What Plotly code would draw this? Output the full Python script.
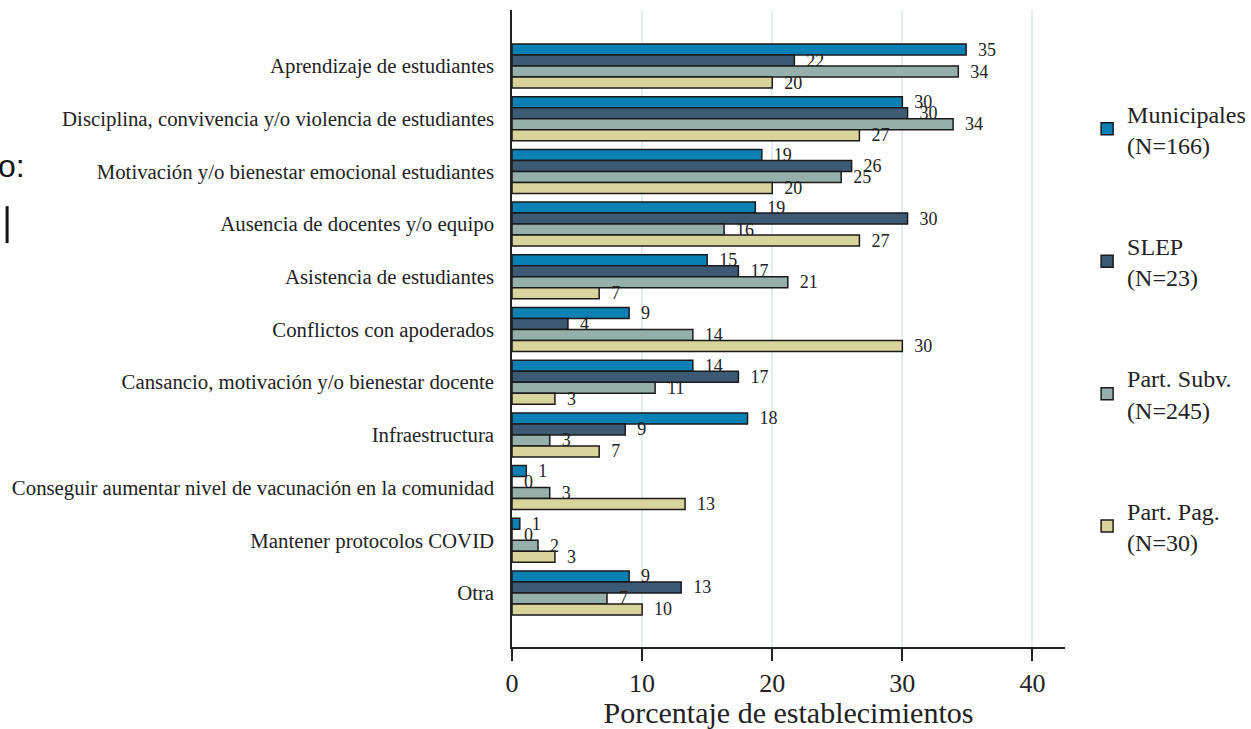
import plotly.graph_objects as go

categories = [
    "Aprendizaje de estudiantes",
    "Disciplina, convivencia y/o violencia de estudiantes",
    "Motivación y/o bienestar emocional estudiantes",
    "Ausencia de docentes y/o equipo",
    "Asistencia de estudiantes",
    "Conflictos con apoderados",
    "Cansancio, motivación y/o bienestar docente",
    "Infraestructura",
    "Conseguir aumentar nivel de vacunación en la comunidad",
    "Mantener protocolos COVID",
    "Otra",
]

municipales = [34.9, 30.0, 19.2, 18.7, 15.0, 9.0, 13.9, 18.1, 1.1, 0.6, 9.0]
slep = [21.7, 30.4, 26.1, 30.4, 17.4, 4.3, 17.4, 8.7, 0.0, 0.0, 13.0]
part_subv = [34.3, 33.9, 25.3, 16.3, 21.2, 13.9, 11.0, 2.9, 2.9, 2.0, 7.3]
part_pag = [20.0, 26.7, 20.0, 26.7, 6.7, 30.0, 3.3, 6.7, 13.3, 3.3, 10.0]

series_names = ["Municipales<br>(N=166)", "SLEP<br>(N=23)", "Part. Subv.<br>(N=245)", "Part. Pag.<br>(N=30)"]
series_values = [municipales, slep, part_subv, part_pag]
colors = ["#0a80b4", "#3d5a75", "#95b0aa", "#d9d39c"]

SERIF = "Liberation Serif, Times New Roman, serif"

fig = go.Figure()
for i, (name, vals, col) in enumerate(zip(series_names, series_values, colors)):
    fig.add_trace(go.Bar(
        y=categories, x=vals, orientation="h", name=name,
        legendgroup=f"g{i}",
        marker=dict(color=col, line=dict(color="#1a1a1a", width=1.5)),
        texttemplate="\u2002%{x:.0f}", textposition="outside",
        constraintext="none", cliponaxis=False,
        textfont=dict(family=SERIF, size=18, color="#222222"),
        hoverinfo="x+y",
    ))

fig.update_layout(
    width=1251, height=729,
    margin=dict(l=512, r=186, t=10, b=82, autoexpand=False),
    paper_bgcolor="white", plot_bgcolor="white",
    barmode="group", bargap=0.165, bargroupgap=0,
    font=dict(family=SERIF, color="#222222"),
    legend=dict(
        xref="container", yref="container",
        x=0.869, xanchor="left", y=0.875, yanchor="top",
        maxheight=700,
        traceorder="grouped", tracegroupgap=67,
        font=dict(family=SERIF, size=24, color="#222222"),
        valign="middle", bgcolor="rgba(0,0,0,0)",
    ),
    xaxis=dict(
        range=[0, 42.5], tickvals=[0, 10, 20, 30, 40], automargin=False,
        showgrid=True, gridcolor="#e4edf1", gridwidth=2,
        zeroline=False, showline=True, linecolor="#222222", linewidth=1.5,
        ticks="outside", ticklen=12, tickwidth=1.5, tickcolor="#222222",
        tickfont=dict(family=SERIF, size=26, color="#222222"),
        title=dict(text="Porcentaje de establecimientos", standoff=0,
                   font=dict(family=SERIF, size=30, color="#222222")),
    ),
    yaxis=dict(
        range=[11.025, -1.063], showgrid=False, zeroline=False, automargin=False,
        showline=True, linecolor="#222222", linewidth=1.5,
        ticks="", ticklabelstandoff=12,
        tickfont=dict(family=SERIF, size=20.8, color="#222222"),
    ),
)

# cropped remnants at left edge of the original slide
fig.add_annotation(text="o:", xref="paper", yref="paper", x=-0.877, y=0.755,
                   xanchor="right", yanchor="middle", showarrow=False,
                   font=dict(family="Liberation Sans", size=32, color="#111111"))
fig.add_shape(type="line", xref="paper", yref="paper", x0=-0.913, x1=-0.913,
              y0=0.634, y1=0.692, line=dict(color="#111111", width=3))

post = (
    "document.documentElement.style.overflow='hidden';"
    "document.body.style.margin='0';"
    "document.body.style.overflow='hidden';"
)
fig.write_html("out.html", post_script=post,
               config={"displayModeBar": False, "responsive": False})
